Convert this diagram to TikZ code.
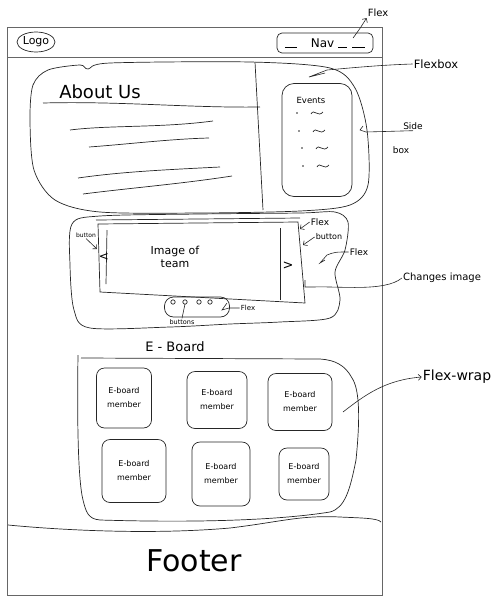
\documentclass[tikz,border=0pt]{standalone}
\usepackage{fontspec}
\setmainfont{DejaVu Sans}
\usetikzlibrary{shapes.geometric, arrows.meta, calc}

\begin{document}
\begin{tikzpicture}[
        x=1pt, y=-1pt,
        sketch/.style={draw=black!85, line width=0.7pt},
        frame/.style={draw=black!60, line width=0.9pt},
        note/.style={inner sep=1pt, font=\fontsize{9}{10}\selectfont},
        leader/.style={draw=black!85, line width=0.6pt},
        tip/.style={leader, -{Straight Barb[length=3pt, width=6pt]}},
        member/.style={sketch, rounded corners=8pt, minimum width=56pt, minimum height=58pt, align=center, inner sep=1pt, font=\fontsize{8}{14}\selectfont}
    ]
        \useasboundingbox (0,0) rectangle (500,603);

        % Page frame
        \draw[frame] (7,27) rectangle (382,595);
        \draw[frame] (7,57) -- (382,57);

        % Header
        \node[sketch, ellipse, minimum width=38pt, minimum height=20pt, inner sep=0pt, font=\fontsize{11}{12}\selectfont] (logo) at (36,42) {Logo};
        \node[sketch, rounded corners=5pt, minimum width=96pt, minimum height=20pt, inner sep=1pt, font=\fontsize{12}{12}\selectfont] (nav) at (325,43)
            {\rule{12pt}{.6pt}\hspace{14pt}Nav\hspace{4pt}\rule{9pt}{.6pt}\hspace{5pt}\rule{13pt}{.6pt}};
        \node[note, font=\fontsize{10}{11}\selectfont] (flextop) at (378,13) {Flex};
        \coordinate (navtip) at (353,38);
        \draw[tip] (navtip) .. controls (359,30) .. (flextop.south west);

        % About us + side box
        \draw[sketch] plot[smooth cycle] coordinates {(33,85) (48,70) (80,65) (88,69) (110,63) (250,62) (330,68) (355,88) (367,130) (368,185) (350,205) (300,211) (200,213) (100,212) (55,200) (34,170) (30,120)};
        \node[inner sep=0pt, font=\fontsize{18}{18}\selectfont] (about) at (100,92) {About Us};
        \draw[sketch] (43,103) .. controls (120,101) and (190,108) .. (260,107);
        \draw[sketch] (255,62) -- (263,210);
        \draw[sketch] (70,130) .. controls (110,125) and (160,128) .. (213,121);
        \draw[sketch] (89,147) .. controls (130,144) and (170,139) .. (209,138);
        \draw[sketch] (78,178) .. controls (120,172) and (160,170) .. (220,167);
        \draw[sketch] (83,194) .. controls (130,188) and (180,184) .. (232,176);

        \node[sketch, rounded corners=12pt, minimum width=70pt, minimum height=113pt] (events) at (317,140) {};
        \node[note, font=\fontsize{8.5}{9}\selectfont] (evtitle) at (311,100) {Events};
        \foreach \bx/\by in {297/113, 299/131, 302/148, 303/166}{
            \fill[black!85] (\bx,\by) circle (0.9);
            \draw[sketch] (\bx+14,\by+1) .. controls (\bx+17,\by-5) and (\bx+21,\by+5) .. (\bx+26,\by-1);
        }
        \node[note] (sidel) at (413,126) {Side};
        \node[note] (boxl) at (401,150) {box};
        \coordinate (sidetip) at (363,126);
        \draw[leader] (sidel.south) -- (366,132) -- (360,130) -- (sidetip);
        \node[note, font=\fontsize{11.5}{12}\selectfont] (flexbox) at (436,64) {Flexbox};
        \coordinate (flexboxtip) at (325,73);
        \draw[leader] (flexbox.west) .. controls (380,65) and (350,68) .. (327,70) -- (309,77) -- (flexboxtip);

        % Carousel
        \draw[sketch] plot[smooth cycle] coordinates {(72,224) (100,216) (200,214) (300,213) (335,212) (348,222) (345,250) (335,272) (340,300) (330,318) (280,322) (230,324) (170,327) (90,328) (74,310) (70,265)};
        \draw[sketch] (98,224) -- (298,222) -- (305,303) -- (100,292) -- cycle;
        \draw[sketch] (96,220) -- (300,218);
        \draw[sketch] (107,230) -- (106,284);
        \draw[sketch] (280,228) -- (280,300);
        \node[inner sep=0pt, font=\fontsize{12}{12}\selectfont] (prev) at (104,257) {<};
        \node[inner sep=0pt, font=\fontsize{13}{13}\selectfont] (next) at (288,266) {>};
        \node[align=center, inner sep=0pt, font=\fontsize{11}{13}\selectfont] (slide) at (175,257) {Image of\\team};

        \node[note, font=\fontsize{6}{7}\selectfont] (btnl) at (86,235) {button};
        \coordinate (btnltip) at (97,249);
        \draw[tip] (btnl.south) -- (btnltip);
        \node[note] (flexc) at (320,222) {Flex};
        \coordinate (flexctip) at (300,229);
        \draw[tip] (flexc.west) -- (flexctip);
        \node[note, font=\fontsize{8}{9}\selectfont] (btnr) at (329,237) {button};
        \coordinate (btnrtip) at (303,245);
        \draw[tip] (btnr.west) -- (btnrtip);
        \node[note] (flexr) at (359,252) {Flex};
        \coordinate (flexrtip) at (325,260);
        \draw[leader] (flexr.west) .. controls (335,252) .. (327,255) -- (320,263) -- (flexrtip);
        \node[note, font=\fontsize{10}{11}\selectfont] (chg) at (442,278) {Changes image};
        \coordinate (chgtip) at (305,280);
        \draw[leader] (chg.west) .. controls (385,292) and (340,286) .. (313,287) -- (305,287) -- (chgtip);

        % Slide dots
        \node[sketch, rounded corners=9pt, minimum width=65pt, minimum height=20pt] (dots) at (197,307) {};
        \foreach \dx in {173, 185, 199, 210}
            \draw[sketch] (\dx,302) circle (2.2);
        \node[note, font=\fontsize{7}{8}\selectfont] (flexd) at (248,308) {Flex};
        \coordinate (flexdtip) at (227,303);
        \draw[leader] (flexd.west) -- (229,308) -- (222,310) -- (flexdtip);
        \coordinate (dottwo) at (185,304);
        \node[note, font=\fontsize{6.5}{7}\selectfont] (btns) at (182,322) {buttons};
        \draw[leader] (dottwo) -- (btns.north);

        % E-Board
        \node[inner sep=0pt, font=\fontsize{13}{13}\selectfont] (eboard) at (175,347) {E - Board};
        \draw[sketch] (81,358) -- (320,359) .. controls (335,360) and (345,365) .. (352,378)
            .. controls (360,390) and (360,420) .. (356,460) .. controls (350,490) and (345,508) .. (330,512)
            .. controls (280,520) and (200,523) .. (100,520) .. controls (88,519) and (86,512) .. (83,500)
            .. controls (78,480) and (77,420) .. (78,355);
        \node[member, minimum width=55pt, minimum height=60pt] (m1) at (124,398) {E-board\\member};
        \node[member, minimum width=60pt, minimum height=57pt] (m2) at (217,400) {E-board\\member};
        \node[member, minimum width=64pt, minimum height=57pt] (m3) at (300,402) {E-board\\member};
        \node[member, minimum width=64pt, minimum height=63pt] (m4) at (134,471) {E-board\\member};
        \node[member, minimum width=58pt, minimum height=64pt] (m5) at (221,474) {E-board\\member};
        \node[member, minimum width=50pt, minimum height=52pt] (m6) at (304,474) {E-board\\member};
        \node[note, font=\fontsize{14}{14}\selectfont] (wrap) at (457,377) {Flex-wrap};
        \coordinate (wrapfrom) at (343,412);
        \draw[tip] (wrapfrom) .. controls (365,395) and (385,380) .. (wrap.west);

        % Footer
        \draw[sketch] (8,525) .. controls (60,530) and (150,535) .. (230,528) .. controls (280,522) and (300,515) .. (340,517) .. controls (360,518) and (378,518) .. (381,522);
        \node[font=\fontsize{30}{30}\selectfont] (footer) at (194,561) {Footer};
    \end{tikzpicture}
\end{document}
